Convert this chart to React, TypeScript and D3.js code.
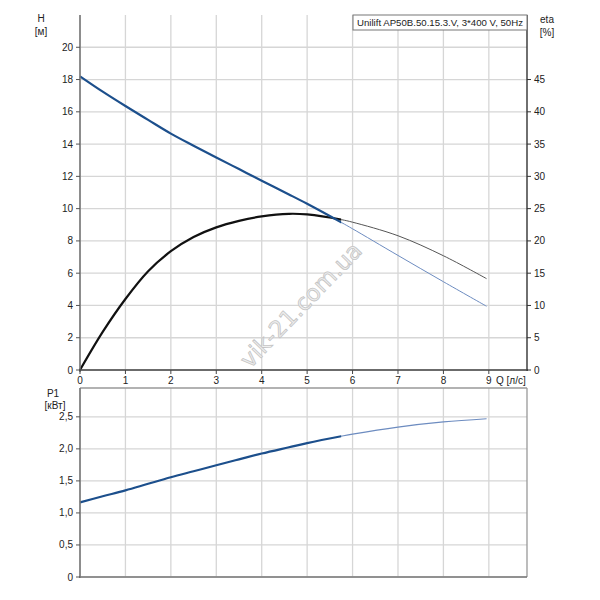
import React from "react";
import * as d3 from "d3";

// flow points [l/s]
const qValues = [0, 0.5, 1, 1.5, 2, 2.5, 3, 3.5, 4, 4.6, 5, 5.75, 6, 7, 8, 8.95];
// head [m]
const headValues = [18.2, 17.25, 16.36, 15.5, 14.65, 13.9, 13.17, 12.45, 11.73, 10.88, 10.3, 9.15, 8.75, 7.1, 5.47, 3.95];
// efficiency [%]
const etaValues = [0, 5.9, 11.0, 15.3, 18.4, 20.6, 22.1, 23.1, 23.8, 24.2, 24.1, 23.3, 22.9, 20.8, 17.7, 14.15];
// power P1 [kW]
const powerValues = [1.165, 1.26, 1.353, 1.455, 1.556, 1.65, 1.744, 1.836, 1.927, 2.025, 2.09, 2.197, 2.23, 2.34, 2.42, 2.47];
const thickEnd = 11; // operating range ends at Q = 5.75

const qTicks = [0, 1, 2, 3, 4, 5, 6, 7, 8, 9];
const hTicks = [0, 2, 4, 6, 8, 10, 12, 14, 16, 18, 20];
const etaTicks = [0, 5, 10, 15, 20, 25, 30, 35, 40, 45];
const pTicks = [0, 0.5, 1.0, 1.5, 2.0, 2.5];
const pTickLabels = ["0", "0,5", "1,0", "1,5", "2,0", "2,5"];

const title = "Unilift AP50B.50.15.3.V, 3*400 V, 50Hz";

const FONT = "'Liberation Sans', Arial, sans-serif";

export default function App() {
  const left = 80;
  const right = 527;
  const x = d3.scaleLinear().domain([0, 9.84]).range([left, right]);
  const yH = d3.scaleLinear().domain([0, 22]).range([370, 15]);
  const yEta = d3.scaleLinear().domain([0, 55]).range([370, 15]);
  const yP = d3.scaleLinear().domain([0, 2.95]).range([577, 388]);

  const idx = qValues.map((_, i) => i);

  // one smooth path per curve, split by clipping at the operating-range limit
  const mk = (vals: number[], ys: d3.ScaleLinear<number, number>) =>
    d3
      .line<number>()
      .x((i) => x(qValues[i]))
      .y((i) => ys(vals[i]))
      .curve(d3.curveCatmullRom.alpha(0.5));

  const hLine = mk(headValues, yH);
  const eLine = mk(etaValues, yEta);
  const pLine = mk(powerValues, yP);

  const grid = "#d6d6d6";
  const blue = "#1c4f8c";
  const blueThin = "#6d8cc0";
  const clipX = x(qValues[thickEnd]);

  return (
    <svg
      width={600}
      height={600}
      style={{ position: "absolute", left: 0, top: 0, background: "#fff" }}
      fontFamily={FONT}
    >
      <defs>
        <clipPath id="op">
          <rect x={0} y={0} width={clipX} height={600} />
        </clipPath>
        <clipPath id="ext">
          <rect x={clipX} y={0} width={600 - clipX} height={600} />
        </clipPath>
      </defs>
      {/* ---------- top plot ---------- */}
      {qTicks.map((q) => (
        <line key={"vg" + q} x1={x(q)} x2={x(q)} y1={15} y2={370} stroke={grid} strokeWidth={1.3} />
      ))}
      {hTicks.map((h) => (
        <line key={"hg" + h} x1={left} x2={right} y1={yH(h)} y2={yH(h)} stroke={grid} strokeWidth={1.3} />
      ))}
      {/* watermark */}
      <text
        transform="translate(302,306) rotate(-46)"
        textAnchor="middle"
        dominantBaseline="middle"
        fontFamily="'DejaVu Sans', sans-serif"
        fontSize={23}
        fill="#efefef"
        stroke="#c4c4c4"
        strokeWidth={0.8}
      >
        vik-21.com.ua
      </text>

      {/* curves */}
      <path d={hLine(idx) || ""} clipPath="url(#ext)" fill="none" stroke={blueThin} strokeWidth={1} />
      <path d={eLine(idx) || ""} clipPath="url(#ext)" fill="none" stroke="#555" strokeWidth={1} />
      <path d={eLine(idx) || ""} clipPath="url(#op)" fill="none" stroke="#111" strokeWidth={2.2} />
      <path d={hLine(idx) || ""} clipPath="url(#op)" fill="none" stroke={blue} strokeWidth={2.2} />

      {/* axes */}
      <line x1={left} x2={left} y1={15} y2={372} stroke="#777" strokeWidth={1.6} />
      <line x1={right} x2={right} y1={15} y2={371} stroke="#222" strokeWidth={1.3} />
      <line x1={left - 1} x2={right + 1} y1={370} y2={370} stroke="#444" strokeWidth={1.5} />
      {hTicks.map((h) => (
        <g key={"ht" + h}>
          <line x1={left - 4} x2={left} y1={yH(h)} y2={yH(h)} stroke="#555" />
          <text x={left - 7} y={yH(h) + 3.5} textAnchor="end" fontSize={10} fill="#222">
            {h}
          </text>
        </g>
      ))}
      {etaTicks.map((e) => (
        <g key={"et" + e}>
          <line x1={right} x2={right + 4} y1={yEta(e)} y2={yEta(e)} stroke="#333" />
          <text x={right + 7} y={yEta(e) + 3.5} textAnchor="start" fontSize={10} fill="#222">
            {e}
          </text>
        </g>
      ))}
      {qTicks.map((q) => (
        <g key={"qt" + q}>
          <line x1={x(q)} x2={x(q)} y1={370} y2={374} stroke="#444" />
          <text x={x(q)} y={384} textAnchor="middle" fontSize={10} fill="#222">
            {q}
          </text>
        </g>
      ))}
      <text x={496} y={384} fontSize={10} fill="#222">
        Q [л/с]
      </text>
      <text x={41} y={22} textAnchor="middle" fontSize={10} fill="#222">
        H
      </text>
      <text x={41} y={35} textAnchor="middle" fontSize={10} fill="#222">
        [м]
      </text>
      <text x={547} y={23} textAnchor="middle" fontSize={10} fill="#222">
        eta
      </text>
      <text x={547} y={36} textAnchor="middle" fontSize={10} fill="#222">
        [%]
      </text>

      {/* legend box */}
      <rect x={353} y={15} width={174} height={15} fill="#fff" stroke="#777" strokeWidth={1} />
      <text x={357} y={26} fontSize={9.5} fill="#222" textLength={166} lengthAdjust="spacingAndGlyphs">
        {title}
      </text>

      {/* ---------- bottom plot ---------- */}
      {qTicks.map((q) => (
        <line key={"bvg" + q} x1={x(q)} x2={x(q)} y1={388} y2={577} stroke={grid} strokeWidth={1.3} />
      ))}
      {pTicks.map((p) => (
        <line key={"bhg" + p} x1={left} x2={right} y1={yP(p)} y2={yP(p)} stroke={grid} strokeWidth={1.3} />
      ))}
      <path d={pLine(idx) || ""} clipPath="url(#ext)" fill="none" stroke={blueThin} strokeWidth={1.2} />
      <path d={pLine(idx) || ""} clipPath="url(#op)" fill="none" stroke={blue} strokeWidth={2.2} />

      <line x1={left} x2={right} y1={388} y2={388} stroke="#999" strokeWidth={1.3} />
      <line x1={right} x2={right} y1={388} y2={577} stroke="#999" strokeWidth={1.3} />
      <line x1={left} x2={left} y1={388} y2={578} stroke="#777" strokeWidth={1.6} />
      <line x1={left - 1} x2={right} y1={577} y2={577} stroke="#777" strokeWidth={1.3} />
      {pTicks.map((p, i) => (
        <g key={"pt" + p}>
          <line x1={left - 4} x2={left} y1={yP(p)} y2={yP(p)} stroke="#555" />
          <text x={left - 7} y={yP(p) + 3.5} textAnchor="end" fontSize={10} fill="#222">
            {pTickLabels[i]}
          </text>
        </g>
      ))}
      <text x={53} y={397} textAnchor="middle" fontSize={10} fill="#222">
        P1
      </text>
      <text x={55} y={409} textAnchor="middle" fontSize={10} fill="#222">
        [кВт]
      </text>
    </svg>
  );
}
